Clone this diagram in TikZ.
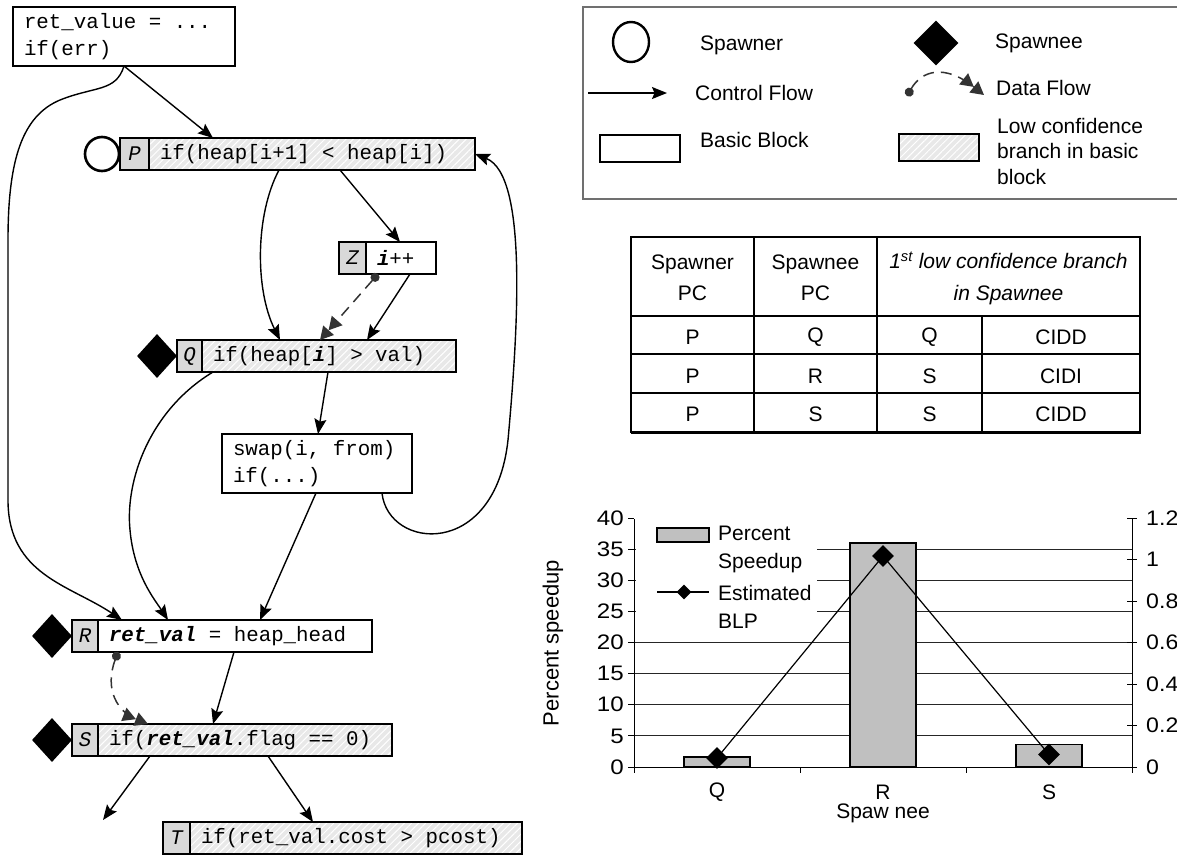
\documentclass[tikz,border=0pt]{standalone}
\usepackage{fontspec}
\setmainfont{Liberation Sans}
\newfontfamily\codefont{Liberation Mono}
\usetikzlibrary{arrows.meta,shapes.geometric,patterns.meta,calc}
\definecolor{labgray}{HTML}{D9D9D9}
\definecolor{hatchbg}{HTML}{E8E8E8}
\definecolor{dfgray}{HTML}{333333}
\definecolor{bargray}{HTML}{C0C0C0}
\definecolor{legborder}{HTML}{707070}
\newcommand{\codesz}{\codefont\fontsize{20.8}{27}\selectfont}
\newcommand{\txtsz}{\fontsize{21}{25.5}\selectfont}
\newcommand{\bi}[1]{\textbf{\textit{#1}}}
\newcommand{\csp}{\hspace*{0.6em}}
\begin{document}
\begin{tikzpicture}[x=1pt,y=-1pt,
  cflow/.style={-{Stealth[length=15pt,width=12pt,inset=2.5pt]}, line width=1.4pt},
  dflow/.style={{Circle[length=9pt]}-{Triangle[length=13pt,width=14pt] Triangle[length=13pt,width=14pt]}, draw=dfgray, fill=none, line width=1.5pt, dash pattern=on 11pt off 7pt},
  cell/.style={draw, line width=1.7pt, minimum height=32pt, inner sep=0pt, outer sep=0pt, anchor=north west},
  lab/.style={cell, fill=labgray, font=\codesz\itshape},
  code/.style={cell, font=\codesz, align=left, inner xsep=11pt},
  hatched/.style={preaction={fill=hatchbg}, pattern={Lines[angle=45,distance=5pt,line width=1pt]}, pattern color=white},
  spawnee/.style={diamond, fill=black, minimum width=40pt, minimum height=44pt, inner sep=0pt},
  spawner/.style={circle, draw, line width=2.6pt, minimum size=34pt, inner sep=0pt},
  txt/.style={font=\txtsz, inner sep=0pt},
  grid/.style={line width=0.8pt, draw=black!85},
  axis/.style={line width=1pt},
  bar/.style={draw, line width=1.2pt, fill=bargray},
  blpmark/.style={diamond, fill=black, inner sep=0pt},
]
\useasboundingbox (0,0) rectangle (1177,860);

% ---------------- code blocks ----------------
\node[code, minimum width=222pt, text width=200pt, minimum height=59pt] (top) at (13,7) {\mbox{ret\_value\csp=\csp...}\\if(err)};

\node[spawner] (Pc) at (102,154) {};
\node[lab, minimum width=29pt] (Pl) at (120,138) {P};
\node[code, hatched, minimum width=326pt, text width=304pt] (P) at (149,138) {\mbox{if(heap[i+1]\csp<\csp heap[i])}};

\node[lab, minimum width=27pt] (Zl) at (339,242) {Z};
\node[code, minimum width=70pt, text width=48pt] (Z) at (366,242) {\mbox{\bi{i}++}};

\node[spawnee] (Qd) at (157,356) {};
\node[lab, minimum width=25pt] (Ql) at (177,340) {Q};
\node[code, hatched, minimum width=254pt, text width=232pt] (Q) at (202,340) {\mbox{if(heap[\bi{i}]\csp>\csp val)}};

\node[code, minimum width=190pt, text width=168pt, minimum height=59pt] (swap) at (222,434) {\mbox{swap(i,\csp from)}\\if(...)};

\node[spawnee] (Rd) at (52,636) {};
\node[lab, minimum width=26pt] (Rl) at (72,620) {R};
\node[code, minimum width=274pt, text width=252pt] (R) at (98,620) {\mbox{\bi{ret\_val}\csp=\csp heap\_head}};

\node[spawnee] (Sd) at (52,740) {};
\node[lab, minimum width=26pt] (Sl) at (72,724) {S};
\node[code, hatched, minimum width=294pt, text width=272pt] (S) at (98,724) {\mbox{if(\bi{ret\_val}.flag\csp==\csp 0)}};

\node[lab, minimum width=27pt] (Tl) at (163,822) {T};
\node[code, hatched, minimum width=332pt, text width=310pt] (T) at (190,822) {\mbox{if(ret\_val.cost\csp>\csp pcost)}};

% ---------------- connectors ----------------
\draw[cflow] ([xshift=111pt]top.south west) -- ([xshift=64pt]P.north west);
\draw[cflow] ([xshift=111pt]top.south west) .. controls (116,92) and (95,86) .. (60,100)
   .. controls (22,116) and (8,160) .. (8,240) -- (8,500)
   .. controls (8,575) and (70,585) .. ([xshift=24pt]R.north west);
\draw[cflow] ([xshift=130pt]P.south west) .. controls (255,215) and (255,290) .. ([xshift=78pt]Q.north west);
\draw[cflow] ([xshift=191pt]P.south west) -- ([xshift=34pt]Z.north west);
\draw[cflow] ([xshift=44pt]Z.south west) -- ([xshift=165pt]Q.north west);
\draw[dflow] ([xshift=12pt]Z.south west) -- ([xshift=118pt]Q.north west);
\draw[cflow] ([xshift=126pt]Q.south west) -- ([xshift=96pt]swap.north west);
\draw[cflow] ([xshift=11pt]Q.south west) .. controls (150,410) and (125,480) .. (130,530)
   .. controls (134,575) and (155,600) .. ([xshift=70pt]R.north west);
\draw[cflow] ([xshift=94pt]swap.south west) -- ([xshift=162pt]R.north west);
\draw[cflow] ([xshift=160pt]swap.south west) .. controls (388,550) and (495,560) .. (508,440)
   .. controls (518,330) and (528,175) .. (P.east);
\draw[cflow] ([xshift=136pt]R.south west) -- ([xshift=115pt]S.north west);
\draw[dflow] ([xshift=20pt]R.south west) .. controls (104,690) and (118,712) .. ([xshift=50pt]S.north west);
\coordinate (Sout) at (103,820);
\draw[cflow] ([xshift=52pt]S.south west) -- (Sout);
\draw[cflow] ([xshift=170pt]S.south west) -- ([xshift=123pt]T.north west);

% ---------------- legend ----------------
\draw[line width=1.5pt, draw=legborder] (583,7) rectangle (1190,199);
\node[ellipse, draw, line width=2.4pt, minimum width=36pt, minimum height=40pt, inner sep=0pt] (lgc) at (631,42) {};
\node[txt, anchor=west] (lgt1) at (700,45) {Spawner};
\node[spawnee, minimum width=45pt, minimum height=45pt] (lgd) at (936,43) {};
\node[txt, anchor=west] (lgt2) at (995,43) {Spawnee};
\coordinate (lca) at (588,93);
\coordinate (lcb) at (667,93);
\draw[cflow] (lca) -- (lcb);
\node[txt, anchor=west] (lgt3) at (695,93) {Control Flow};
\coordinate (lda) at (907,96);
\coordinate (ldb) at (984,95);
\draw[dflow] (lda) .. controls (922,70) and (945,64) .. (ldb);
\node[txt, anchor=west] (lgt4) at (996,88) {Data Flow};
\node[cell, minimum width=80pt, minimum height=27pt] (lbb) at (600,135) {};
\node[txt, anchor=west] (lgt5) at (700,140) {Basic Block};
\node[cell, hatched, minimum width=80pt, minimum height=27pt] (lhb) at (899,134) {};
\node[txt, anchor=west, align=left] (lgt6) at (997,151) {Low confidence\\branch in basic\\block};

% ---------------- table ----------------
\draw[line width=1.5pt] (631,237) rectangle (1140,432);
\draw[line width=1.5pt] (754,237) -- (754,432) (877,237) -- (877,432) (982,316) -- (982,432);
\draw[line width=1.5pt] (631,316) -- (1140,316) (631,354) -- (1140,354) (631,393) -- (1140,393);
\draw[line width=3pt] (631,432) -- (1141,432);
\node[txt, align=center, font=\fontsize{21}{31.5}\selectfont] (h1) at (692.5,278) {Spawner\\PC};
\node[txt, align=center, font=\fontsize{21}{31.5}\selectfont] (h2) at (815.5,278) {Spawnee\\PC};
\node[txt, align=center, font=\fontsize{21}{31.5}\selectfont\itshape] (h3) at (1008.5,278) {1\textsuperscript{st} low confidence branch\\in Spawnee};
\node[txt] (c11) at (692.5,337) {P};
\node[txt] (c12) at (815.5,337) {Q};
\node[txt] (c13) at (929.5,337) {Q};
\node[txt] (c14) at (1061,337) {CIDD};
\node[txt] (c21) at (692.5,376) {P};
\node[txt] (c22) at (815.5,376) {R};
\node[txt] (c23) at (929.5,376) {S};
\node[txt] (c24) at (1061,376) {CIDI};
\node[txt] (c31) at (692.5,414) {P};
\node[txt] (c32) at (815.5,414) {S};
\node[txt] (c33) at (929.5,414) {S};
\node[txt] (c34) at (1061,414) {CIDD};

% ---------------- chart ----------------
\foreach \v in {5,10,...,35} \draw[grid] (634,{767-\v*6.225}) -- (1132,{767-\v*6.225});
\fill[white] (636,521) rectangle (817,637);
\draw[bar] (684,767) rectangle (750,757);
\draw[bar] (850,767) rectangle (916,543);
\draw[bar] (1016,767) rectangle (1082,744.6);
\draw[axis] (634,519) -- (634,767) -- (1132,767);
\draw[axis] (1132,519) -- (1132,773);
\foreach \v in {0,5,...,40} {
  \draw[axis] (628,{767-\v*6.225}) -- (634,{767-\v*6.225});
  \node[txt, anchor=east, xscale=1.15] at (624,{767-\v*6.225}) {\v};
}
\foreach \v/\l in {0/0,1/0.2,2/0.4,3/0.6,4/0.8,5/1,6/1.2} {
  \draw[axis] (1127,{767-\v*41.5}) -- (1137,{767-\v*41.5});
  \node[txt, anchor=west, xscale=1.1] at (1146,{767-\v*41.5}) {\l};
}
\foreach \x in {634,800,966,1132} \draw[axis] (\x,767) -- (\x,773);
\node[txt] (xq) at (717,792) {Q};
\node[txt] (xr) at (883,792) {R};
\node[txt] (xs) at (1049,792) {S};
\node[txt] (xlab) at (883,813) {Spaw nee};
\node[txt, rotate=90, font=\fontsize{22}{26}\selectfont] (ylab) at (553,643) {Percent speedup};
\node[blpmark, minimum size=22pt] (mq) at (717,758) {};
\node[blpmark, minimum size=22pt] (mr) at (883,556) {};
\node[blpmark, minimum size=22pt] (ms) at (1049,754.5) {};
\draw[line width=1.2pt] (mq.center) -- (mr.center) -- (ms.center);
% chart legend
\draw[bar] (657,528) rectangle (709,542);
\node[txt, anchor=west, align=left, font=\fontsize{21}{28}\selectfont] (cl1) at (718,549) {Percent\\Speedup};
\coordinate (cla) at (657,592);
\coordinate (clb) at (709,592);
\draw[line width=1.2pt] (cla) -- (clb);
\node[blpmark, minimum size=15pt] (clm) at (684,592) {};
\node[txt, anchor=west, align=left, font=\fontsize{21}{28}\selectfont] (cl2) at (718,607) {Estimated\\BLP};
\end{tikzpicture}
\end{document}
